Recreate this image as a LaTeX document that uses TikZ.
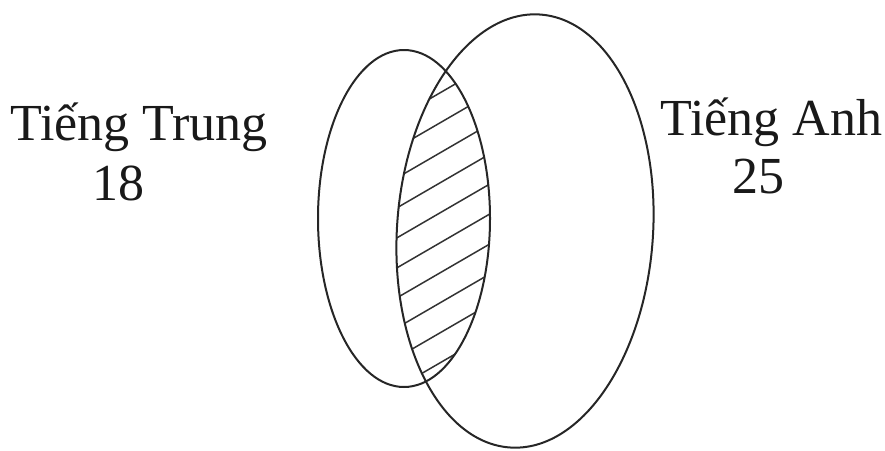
\documentclass[tikz,border=0pt]{standalone}
\usepackage{fontspec}
\setmainfont{Liberation Serif}
\begin{document}
\begin{tikzpicture}[x=1pt,y=-1pt,
  lbl/.style={inner sep=0pt,anchor=base west,font=\fontsize{52}{60}\selectfont,text=black!90},
  setline/.style={line width=2pt,black!85},
  hatchline/.style={line width=1.5pt,black!80}]
\useasboundingbox (0,0) rectangle (885,450);
\begin{scope}
  \clip (404,218.5) ellipse [x radius=86, y radius=168.5];
  \clip[rotate around={-4:(525,231)}] (525,231) ellipse [x radius=128, y radius=217];
  \foreach \k in {-12,...,12}
    \draw[hatchline] (300,{232+30*\k+107*0.58}) -- (520,{232+30*\k-113*0.58});
\end{scope}
\draw[setline] (404,218.5) ellipse [x radius=86, y radius=168.5];
\draw[setline, rotate around={-4:(525,231)}] (525,231) ellipse [x radius=128, y radius=217];
\node[lbl] (tt) at (10,140) {Tiếng Trung};
\node[lbl] (n18) at (92,200) {18};
\node[lbl] (ta) at (660,135) {Tiếng Anh};
\node[lbl] (n25) at (732,193) {25};
\end{tikzpicture}
\end{document}
